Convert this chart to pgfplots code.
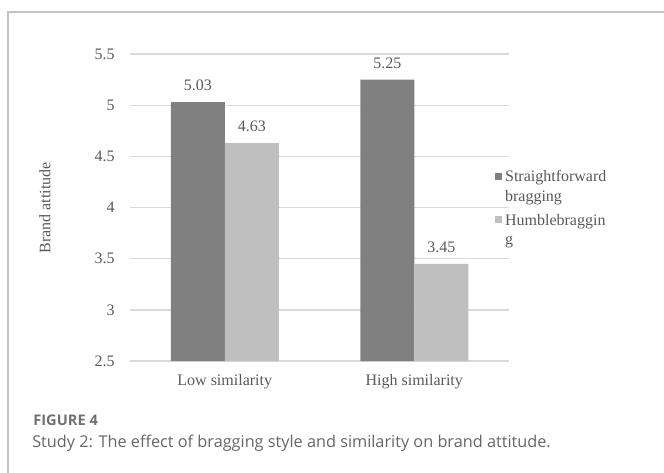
\documentclass[border=0pt]{standalone}
\usepackage{pgfplots}
\pgfplotsset{compat=1.18}
\usepackage{fontspec}
\setmainfont{Liberation Serif}
\newfontfamily\capfont{Open Sans}
\definecolor{darkbar}{HTML}{808080}
\definecolor{lightbar}{HTML}{BFBFBF}
\definecolor{txt}{HTML}{595959}
\definecolor{gridc}{HTML}{D9D9D9}
\definecolor{framec}{HTML}{C4C4C4}
\definecolor{capc}{HTML}{666666}
\definecolor{figc}{HTML}{707070}
\newcommand{\chartfont}{\fontsize{12}{14.5}\selectfont}
\begin{document}
\begin{tikzpicture}[x=0.75pt,y=0.75pt]
\useasboundingbox (0,0) rectangle (664,472);
\draw[framec, line width=1.5pt] (8,-1) -- (8,460) -- (665,460);
\begin{axis}[
  at={(97.5pt,83.25pt)}, anchor=south west,
  scale only axis, width=284.25pt, height=230.25pt,
  xmin=-0.5, xmax=1.5, ymin=2.5, ymax=5.5,
  ybar=0pt, bar width=40.5pt,
  xtick={0,1}, xticklabels={Low similarity, High similarity},
  ytick={2.5,3,3.5,4,4.5,5,5.5},
  yticklabels={2.5,3,3.5,4,4.5,5,5.5},
  axis line style={draw=none},
  major tick length=0pt,
  ymajorgrids, grid style={gridc, line width=1pt},
  tick label style={font=\chartfont, text=txt},
  yticklabel style={inner sep=0pt, xshift=-11.25pt},
  xticklabel style={inner sep=0pt, yshift=-9.75pt, anchor=north},
  nodes near coords={\pgfmathprintnumber[fixed,fixed zerofill,precision=2,assume math mode=true]{\pgfplotspointmeta}},
  every node near coord/.append style={font=\chartfont, text=txt, inner sep=0pt, anchor=south, yshift=8pt},
  legend image code/.code={\fill[#1] (0pt,-2.6pt) rectangle (5.4pt,2.6pt);},
  legend style={draw=none, fill=none, at={(axis description cs:0.963,0.637)}, anchor=north west,
    inner sep=0pt, row sep=16.75pt, font=\chartfont, text=txt, cells={anchor=west},
    /tikz/every even column/.append style={column sep=3pt}},
]
\addplot[fill=darkbar, draw=none] coordinates {(0,5.03) (1,5.25)};
\addlegendentry{\begin{tabular}[t]{@{}l@{}}Straightforward\\bragging\end{tabular}}
\addplot[fill=lightbar, draw=none] coordinates {(0,4.63) (1,3.45)};
\addlegendentry{\begin{tabular}[t]{@{}l@{}}Humblebraggin\\g\end{tabular}}
\end{axis}
\node[rotate=90, font=\chartfont, text=txt] at (45,264) {Brand attitude};
\node[anchor=base west, inner sep=0pt, font=\capfont\bfseries\fontsize{11}{13}\selectfont, text=figc] at (33,47) {FIGURE 4};
\node[anchor=base west, inner sep=0pt, font=\capfont\fontsize{12.2}{14}\selectfont, text=capc] at (32,25) {Study 2: The effect of bragging style and similarity on brand attitude.};
\end{tikzpicture}
\end{document}
